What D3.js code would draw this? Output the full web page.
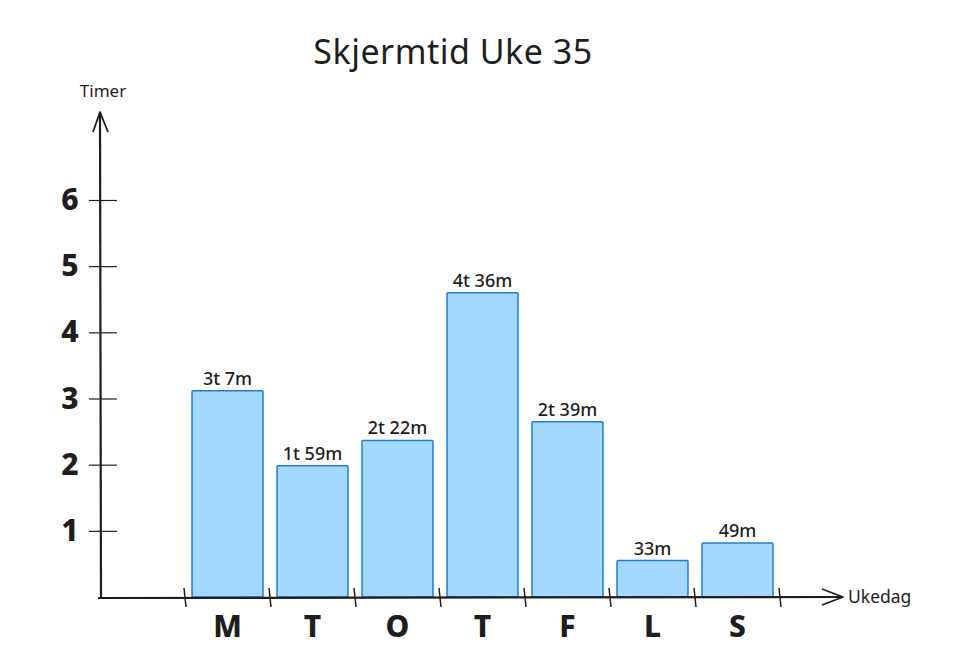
<!DOCTYPE html>
<html><head><meta charset="utf-8">
<script src="https://cdn.jsdelivr.net/npm/d3@7"></script>
<style>
html,body{margin:0;padding:0;background:#fff;}
svg{display:block;}
text{font-family:"Noto Sans","DejaVu Sans",sans-serif;fill:#1e1e1e;}
</style></head>
<body>
<svg id="chart" width="973" height="672"></svg>
<script>
const days = ["M","T","O","T","F","L","S"];
const hours = [3+7/60, 1+59/60, 2+22/60, 4+36/60, 2+39/60, 33/60, 49/60];
const valueLabels = ["3t 7m","1t 59m","2t 22m","4t 36m","2t 39m","33m","49m"];
const yTicks = [1,2,3,4,5,6];
const title = "Skjermtid Uke 35";
const yTitle = "Timer";
const xTitle = "Ukedag";

const ink = "#1e1e1e";
const svg = d3.select("#chart");

const x = d3.scaleBand().domain(d3.range(days.length)).range([185, 780])
  .paddingInner(0.165).paddingOuter(0.0825);
const y = d3.scaleLinear().domain([0, 6]).range([597, 200]);

// title
svg.append("text").attr("x", 453).attr("y", 64).attr("text-anchor","middle")
  .attr("font-size", 34).attr("letter-spacing", 0.5).text(title);

// bars
svg.selectAll("rect.bar").data(hours).join("rect").attr("class","bar")
  .attr("x", (d,i)=>x(i)).attr("width", x.bandwidth())
  .attr("y", d=>y(d)).attr("height", d=>y(0)-y(d))
  .attr("fill","#a5d8ff").attr("stroke","#1c7ed6").attr("stroke-width",1.5)
  .attr("rx",1);

// value labels
svg.selectAll("text.val").data(hours).join("text").attr("class","val")
  .attr("x",(d,i)=>x(i)+x.bandwidth()/2).attr("y", d=>y(d)-6)
  .attr("text-anchor","middle").attr("font-size",18).attr("font-weight",500)
  .text((d,i)=>valueLabels[i]);

// y axis via d3.axisLeft
const yAxis = svg.append("g").attr("transform","translate(101,0)")
  .call(d3.axisLeft(y).tickValues(yTicks).tickSize(12).tickFormat(d3.format("d")));
yAxis.select(".domain").remove();
yAxis.selectAll(".tick line").attr("x1",-12).attr("x2",16).attr("stroke",ink).attr("stroke-width",1.2);
yAxis.selectAll(".tick text").attr("x",-31).attr("text-anchor","middle")
  .attr("font-size",30).attr("font-weight",800).attr("fill",ink)
  .attr("font-family","\"Noto Sans\",sans-serif");

// y axis line + arrow
svg.append("path").attr("d","M101,599 L100,113").attr("stroke",ink).attr("stroke-width",2.2).attr("fill","none");
svg.append("path").attr("d","M93,132 L100,112 L108,132").attr("stroke",ink).attr("stroke-width",1.8).attr("fill","none").attr("stroke-linejoin","round");
svg.append("text").attr("x",103).attr("y",97).attr("text-anchor","middle").attr("font-size",17).text(yTitle);

// x axis line + arrow
svg.append("path").attr("d","M98,598 L842,597").attr("stroke",ink).attr("stroke-width",2.2).attr("fill","none");
svg.append("path").attr("d","M822,589 L843,597 L822,605").attr("stroke",ink).attr("stroke-width",1.8).attr("fill","none").attr("stroke-linejoin","round");
svg.append("text").attr("x",848).attr("y",603).attr("font-size",17.5).text(xTitle);

// x ticks at band boundaries
const step = x.step();
const bounds = d3.range(days.length+1).map(i => i < days.length ? x(i) - step*x.paddingInner()/2 : x(i-1) + x.bandwidth() + step*x.paddingInner()/2);
svg.selectAll("line.xt").data(bounds).join("line").attr("class","xt")
  .attr("x1",d=>d-1).attr("x2",d=>d+1).attr("y1",588).attr("y2",607)
  .attr("stroke",ink).attr("stroke-width",1.5);

// day labels via d3.axisBottom
const xAxis = svg.append("g").attr("transform","translate(0,597)")
  .call(d3.axisBottom(x).tickSize(0).tickPadding(14).tickFormat(i=>days[i]));
xAxis.select(".domain").remove();
xAxis.selectAll(".tick text").attr("font-size",30).attr("font-weight",800)
  .attr("fill",ink).attr("dy","0.85em").attr("font-family","\"Noto Sans\",sans-serif");
</script>
</body></html>
